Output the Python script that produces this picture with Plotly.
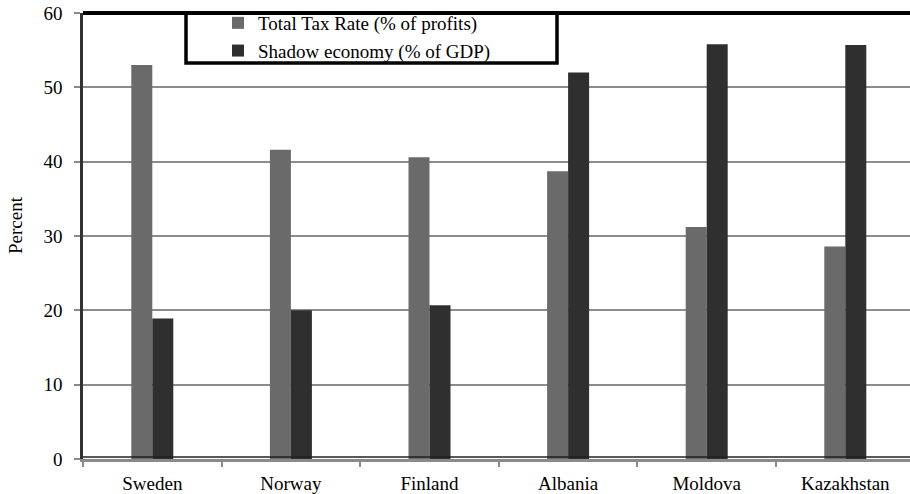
import plotly.graph_objects as go

countries = ["Sweden", "Norway", "Finland", "Albania", "Moldova", "Kazakhstan"]
total_tax_rate = [53.0, 41.6, 40.6, 38.7, 31.2, 28.6]
shadow_economy = [18.9, 20.0, 20.7, 52.0, 55.8, 55.7]
series_names = ["Total Tax Rate (% of profits)", "Shadow economy (% of GDP)"]
y_ticks = [0, 10, 20, 30, 40, 50, 60]

FONT = "Liberation Serif"
W, H = 910, 494
ML, MT, MB, MR = 83, 13, 35, 0
plot_w = W - ML - MR
plot_h = H - MT - MB
cat_w = 138.6  # pixel width of one category slot


def px_x(p):
    return (p - ML) / plot_w


def px_y(p):
    return (H - MB - p) / plot_h


fig = go.Figure()
fig.add_trace(go.Bar(x=countries, y=total_tax_rate, name=series_names[0],
                     marker=dict(color="#6a6a6a", line=dict(width=0))))
fig.add_trace(go.Bar(x=countries, y=shadow_economy, name=series_names[1],
                     marker=dict(color="#2f2f2f", line=dict(width=0))))

# legend frame (wider than its content, sitting on the top border)
fig.add_shape(type="rect", xref="paper", yref="paper",
              x0=px_x(186), x1=px_x(557), y0=px_y(63), y1=1,
              line=dict(color="black", width=3.5), fillcolor="white", layer="below")
# heavy top border of the plot area
fig.add_shape(type="line", xref="paper", yref="paper", x0=0, x1=1, y0=1, y1=1,
              line=dict(color="black", width=4))
# dark baseline just above the gray category axis
fig.add_shape(type="line", xref="paper", yref="paper", x0=0, x1=1, y0=px_y(457), y1=px_y(457),
              line=dict(color="#222222", width=1.5))

# y-axis title, placed a little above the vertical middle
fig.add_annotation(text="Percent", xref="paper", yref="paper",
                   x=px_x(15), y=px_y(225), xanchor="center", yanchor="middle",
                   textangle=-90, showarrow=False,
                   font=dict(family=FONT, size=19, color="black"))

fig.update_layout(
    width=W, height=H,
    margin=dict(l=ML, r=MR, t=MT, b=MB, autoexpand=False),
    paper_bgcolor="white", plot_bgcolor="white",
    font=dict(family=FONT, size=19, color="black"),
    barmode="group", bargap=0.697, bargroupgap=0,
    showlegend=True,
    legend=dict(x=px_x(218), xanchor="left", y=px_y(4), yanchor="top",
                bgcolor="rgba(0,0,0,0)", borderwidth=0,
                font=dict(family=FONT, size=19, color="black"),
                tracegroupgap=0, itemwidth=30, traceorder="normal"),
    xaxis=dict(
        type="category", range=[-0.5, -0.5 + plot_w / cat_w],
        showgrid=False, zeroline=False,
        showline=True, linecolor="#8a8a8a", linewidth=2.5,
        ticks="outside", tickson="boundaries", ticklen=5, tickwidth=1.5, tickcolor="#8a8a8a",
        ticklabelstandoff=5,
        tickfont=dict(family=FONT, size=19, color="black"),
    ),
    yaxis=dict(
        range=[0, 60], tickvals=y_ticks, ticktext=[str(v) for v in y_ticks],
        showgrid=True, gridcolor="#8c8c8c", gridwidth=1.6,
        zeroline=False,
        showline=True, linecolor="#333333", linewidth=2.5,
        ticks="outside", ticklen=6, tickwidth=1.5, tickcolor="#8a8a8a",
        ticklabelstandoff=8,
        tickfont=dict(family=FONT, size=19, color="black"),
    ),
)

fig.write_html("out.html")
